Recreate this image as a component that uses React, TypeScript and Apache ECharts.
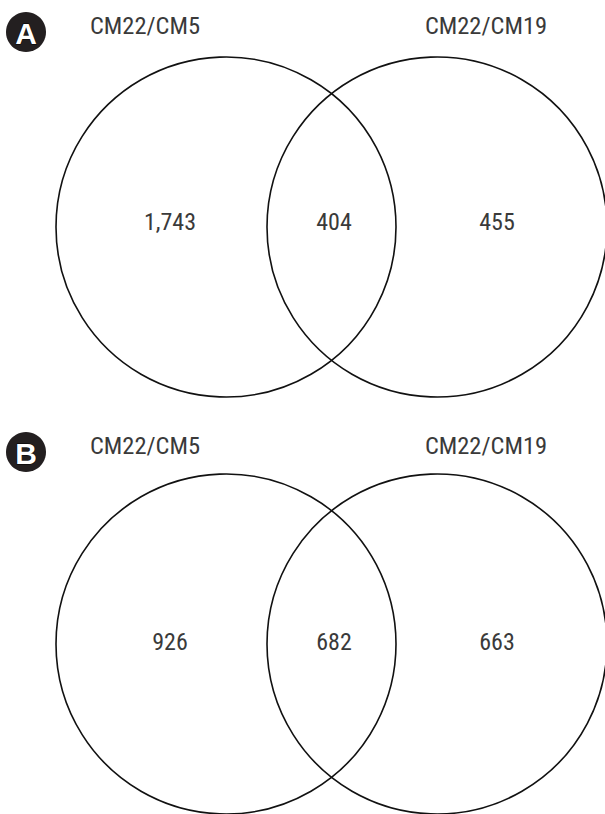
import React, { useEffect, useRef } from "react";
import * as echarts from "echarts";

// ---- data ----
const panels = ["A", "B"];
const setNames = ["CM22/CM5", "CM22/CM19"];
const regionNames = ["CM22/CM5 only", "CM22/CM5 ∩ CM22/CM19", "CM22/CM19 only"];
const countsA = [1743, 404, 455];
const countsB = [926, 682, 663];
const panelCounts = [countsA, countsB];

// ---- layout (pixel space of the 605x814 canvas) ----
const W = 605;
const H = 814;
const circleCx = [226, 437];
const circleCy = [227, 644];
const R = 170;
const textTop = [0, 420];
const regionX = [170, 334, 497];
const regionY = 222;
const labelX = [145, 486];
const labelY = 25;
const badgeX = 26;
const badgeY = 32;
const badgeR = 20;
const FONT = "'Liberation Sans Narrow', 'Roboto Condensed', 'Arial Narrow', sans-serif";

const fmt = (v: number) => v.toLocaleString("en-US");

export default function App() {
  const ref = useRef<HTMLDivElement>(null);

  useEffect(() => {
    if (!ref.current) return;
    const chart = echarts.init(ref.current, undefined, { renderer: "svg" });

    const renderItem = (params: any, api: any) => {
      const p = api.value(0) as number;
      const counts = panelCounts[p];
      const off = textTop[p];
      const r = api.size([R, 0])[0];
      const children: any[] = [];

      circleCx.forEach((cx) => {
        const c = api.coord([cx, circleCy[p]]);
        children.push({
          type: "circle",
          shape: { cx: c[0], cy: c[1], r },
          style: { fill: "none", stroke: "#111111", lineWidth: 1.6 },
        });
      });

      counts.forEach((v, i) => {
        const c = api.coord([regionX[i], regionY + off]);
        children.push({
          type: "text",
          x: c[0],
          y: c[1],
          style: {
            text: fmt(v),
            fill: "#3a3a3a",
            fontSize: 24,
            fontFamily: FONT,
            align: "center",
            verticalAlign: "middle",
          },
        });
      });

      setNames.forEach((name, i) => {
        const c = api.coord([labelX[i], labelY + off]);
        children.push({
          type: "text",
          x: c[0],
          y: c[1],
          style: {
            text: name,
            fill: "#3a3a3a",
            fontSize: 24.5,
            fontFamily: FONT,
            align: "center",
            verticalAlign: "middle",
          },
        });
      });

      const b = api.coord([badgeX, badgeY + off]);
      const br = api.size([badgeR, 0])[0];
      children.push({
        type: "circle",
        shape: { cx: b[0], cy: b[1], r: br },
        style: { fill: "#231f20" },
      });
      children.push({
        type: "text",
        x: b[0],
        y: b[1] + 1,
        style: {
          text: panels[p],
          fill: "#ffffff",
          fontSize: 30,
          fontWeight: "bold",
          fontFamily: "'Liberation Sans Narrow', 'Liberation Sans', sans-serif",
          align: "center",
          verticalAlign: "middle",
          stroke: "#000000",
          lineWidth: 1,
          textShadowColor: "#9a9a9a",
          textShadowOffsetX: 1.5,
          textShadowOffsetY: 1.5,
          textShadowBlur: 0,
        },
      });

      return { type: "group", children };
    };

    chart.setOption({
      animation: false,
      backgroundColor: "#ffffff",
      grid: { left: 0, right: 0, top: 0, bottom: 0 },
      xAxis: { type: "value", min: 0, max: W, show: false },
      yAxis: { type: "value", min: 0, max: H, inverse: true, show: false },
      tooltip: { show: false },
      series: [
        {
          type: "custom",
          name: regionNames.join(" | "),
          coordinateSystem: "cartesian2d",
          clip: false,
          renderItem,
          data: panels.map((_, i) => [i]),
        },
      ],
    });

    return () => chart.dispose();
  }, []);

  return (
    <div
      ref={ref}
      style={{ position: "absolute", left: 0, top: 0, width: W, height: H }}
    />
  );
}
